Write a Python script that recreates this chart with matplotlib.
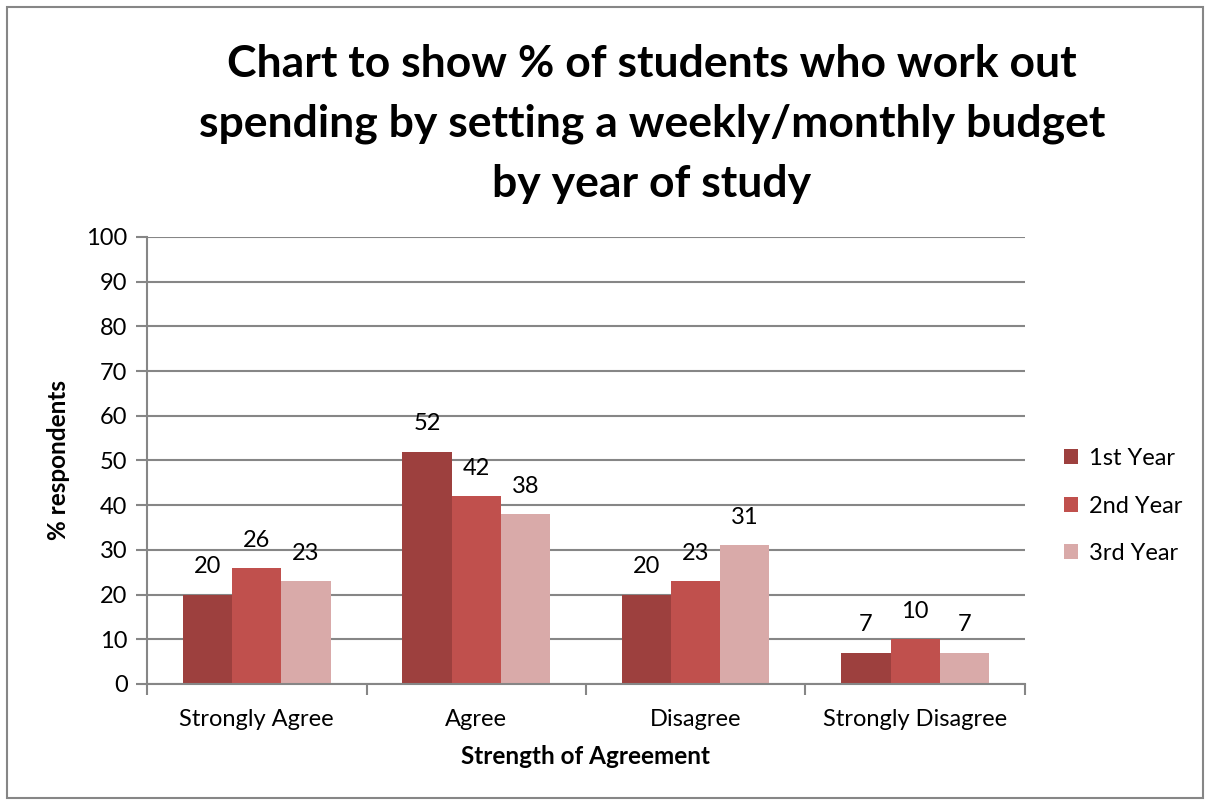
import matplotlib.pyplot as plt
import numpy as np
from matplotlib.patches import Rectangle

# Data
categories = ['Strongly Agree', 'Agree', 'Disagree', 'Strongly Disagree']
series = ['1st Year', '2nd Year', '3rd Year']
first_year = [20, 52, 20, 7]
second_year = [26, 42, 23, 10]
third_year = [23, 38, 31, 7]
colors = ['#9D403E', '#C0504D', '#D9AAA9']

plt.rcParams['font.family'] = ['Lato', 'DejaVu Sans']

fig = plt.figure(figsize=(12.05, 8), dpi=100)
ax = fig.add_axes([0.122, 0.145, 0.7286, 0.5588])

# outer chart frame
fig.patches.append(Rectangle((0.006, 0.003), 0.992, 0.988, transform=fig.transFigure,
                             fill=False, edgecolor='#868686', linewidth=1.5))

x = np.arange(len(categories))
w = 0.224
for i, (vals, name) in enumerate(zip([first_year, second_year, third_year], series)):
    bars = ax.bar(x + (i - 1) * w, vals, w, color=colors[i], label=name, zorder=3)
    for b, v in zip(bars, vals):
        ax.text(b.get_x() + b.get_width() / 2, v + 6.2, str(v), ha='center', va='center',
                fontsize=17)

ax.set_xlim(-0.5, len(categories) - 0.5)
ax.set_ylim(0, 100)
ax.set_yticks(range(0, 101, 10))
ax.set_xticks(x)
ax.set_xticklabels(categories, fontsize=17)
ax.tick_params(axis='y', labelsize=17, length=8, color='#868686', width=1.5, pad=6)
ax.tick_params(axis='x', length=0, pad=18)
# category separator ticks
ax.set_xticks(np.arange(-0.5, len(categories), 1), minor=True)
ax.tick_params(axis='x', which='minor', length=8, color='#868686', width=1.5)

ax.grid(axis='y', color='#868686', linewidth=1.5, zorder=0)
for s in ['top', 'right']:
    ax.spines[s].set_visible(False)
for s in ['left', 'bottom']:
    ax.spines[s].set_color('#868686')
    ax.spines[s].set_linewidth(1.5)
    ax.spines[s].set_zorder(4)

ax.set_xlabel('Strength of Agreement', fontsize=17.5, fontweight='bold', labelpad=11)
ax.set_ylabel('% respondents', fontsize=17.5, fontweight='bold', labelpad=12)

fig.text(0.541, 0.845, 'Chart to show % of students who work out\nspending by setting a weekly/monthly budget\nby year of study',
         ha='center', va='center', fontsize=32, fontweight='bold', linespacing=1.6)

leg = ax.legend(loc='center left', bbox_to_anchor=(1.02, 0.398), frameon=False, fontsize=17,
                handlelength=0.6, handleheight=0.6, labelspacing=1.12, handletextpad=0.45)

plt.savefig('out.png', dpi=100)
